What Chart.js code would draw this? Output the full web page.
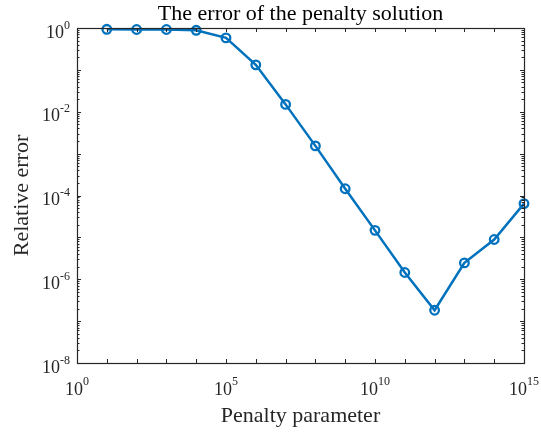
<!DOCTYPE html>
<html>
<head>
<meta charset="utf-8">
<script src="https://cdn.jsdelivr.net/npm/chart.js@4"></script>
<style>
html,body{margin:0;padding:0;background:#fff;}
#wrap{width:541px;height:432px;}
</style>
</head>
<body>
<div id="wrap"><canvas id="c" width="541" height="432"></canvas></div>
<script>
// ---- data ----
const penaltyValues = [1e1, 1e2, 1e3, 1e4, 1e5, 1e6, 1e7, 1e8, 1e9, 1e10, 1e11, 1e12, 1e13, 1e14, 1e15];
const relativeError = [0.93, 0.92, 0.92, 0.88, 0.58, 0.132, 0.015, 1.53e-3, 1.45e-4, 1.47e-5, 1.45e-6, 1.82e-7, 2.46e-6, 8.9e-6, 6.4e-5];
const xTickExponents = [0, 5, 10, 15];
const yTickExponents = [0, -2, -4, -6, -8];
const titleText = 'The error of the penalty solution';
const xLabelText = 'Penalty parameter';
const yLabelText = 'Relative error';

const FONT = '"Liberation Serif", "Times New Roman", serif';
const AXIS_COLOR = '#262626';
const LINE_COLOR = '#0072BD';

const decorPlugin = {
  id: 'decor',
  afterDraw(chart) {
    const ctx = chart.ctx;
    const a = chart.chartArea;
    const xs = chart.scales.x, ys = chart.scales.y;
    ctx.save();
    ctx.strokeStyle = AXIS_COLOR;
    ctx.lineWidth = 1.2;
    // box
    ctx.strokeRect(Math.round(a.left) + 0.5, Math.round(a.top) + 0.5, Math.round(a.right - a.left), Math.round(a.bottom - a.top));
    ctx.lineWidth = 1;
    ctx.beginPath();
    // x ticks every decade
    for (let e = 0; e <= 15; e++) {
      const px = Math.round(xs.getPixelForValue(Math.pow(10, e))) + 0.5;
      ctx.moveTo(px, a.bottom); ctx.lineTo(px, a.bottom - 4);
      ctx.moveTo(px, a.top); ctx.lineTo(px, a.top + 4);
    }
    // y ticks: major each decade, minor 2..9
    for (let e = -8; e <= 0; e++) {
      const py = Math.round(ys.getPixelForValue(Math.pow(10, e))) + 0.5;
      ctx.moveTo(a.left, py); ctx.lineTo(a.left + 4, py);
      ctx.moveTo(a.right, py); ctx.lineTo(a.right - 4, py);
      if (e < 0) {
        for (let m = 2; m <= 9; m++) {
          const pm = Math.round(ys.getPixelForValue(m * Math.pow(10, e))) + 0.5;
          ctx.moveTo(a.left, pm); ctx.lineTo(a.left + 2.5, pm);
          ctx.moveTo(a.right, pm); ctx.lineTo(a.right - 2.5, pm);
        }
      }
    }
    ctx.stroke();

    ctx.fillStyle = AXIS_COLOR;
    const baseFont = '18px ' + FONT;
    const expFont = '12px ' + FONT;
    ctx.textBaseline = 'alphabetic';
    ctx.textAlign = 'left';
    // x tick labels
    xTickExponents.forEach(e => {
      const px = xs.getPixelForValue(Math.pow(10, e));
      ctx.font = baseFont; const wb = ctx.measureText('10').width;
      ctx.font = expFont; const we = ctx.measureText(String(e)).width;
      const start = px - (wb + we) / 2;
      ctx.font = baseFont; ctx.fillText('10', start, a.bottom + 32);
      ctx.font = expFont; ctx.fillText(String(e), start + wb, a.bottom + 22);
    });
    // y tick labels
    yTickExponents.forEach(e => {
      const py = ys.getPixelForValue(Math.pow(10, e));
      ctx.font = baseFont; const wb = ctx.measureText('10').width;
      ctx.font = expFont; const we = ctx.measureText(String(e)).width;
      const right = a.left - 7;
      ctx.font = baseFont; ctx.fillText('10', right - we - wb, py + 9.5);
      ctx.font = expFont; ctx.fillText(String(e), right - we, py + 0.5);
    });
    // titles
    ctx.font = '22px ' + FONT;
    ctx.textAlign = 'center';
    const cx = (a.left + a.right) / 2;
    const cy = (a.top + a.bottom) / 2;
    ctx.fillStyle = '#000';
    ctx.fillText(titleText, cx, a.top - 8);
    ctx.fillStyle = AXIS_COLOR;
    ctx.fillText(xLabelText, cx, a.bottom + 59);
    ctx.save();
    ctx.translate(28, cy);
    ctx.rotate(-Math.PI / 2);
    ctx.fillText(yLabelText, 0, 0);
    ctx.restore();
    ctx.restore();
  }
};

new Chart(document.getElementById('c'), {
  type: 'line',
  data: {
    datasets: [{
      data: penaltyValues.map((x, i) => ({ x: x, y: relativeError[i] })),
      borderColor: LINE_COLOR,
      borderWidth: 2.5,
      pointStyle: 'circle',
      pointRadius: 4.3,
      pointBorderWidth: 2.3,
      pointBorderColor: LINE_COLOR,
      pointBackgroundColor: 'rgba(0,0,0,0)',
      tension: 0,
      clip: false
    }]
  },
  options: {
    responsive: false,
    animation: false,
    layout: { padding: { left: 77, right: 17, top: 28, bottom: 69 } },
    plugins: { legend: { display: false }, tooltip: { enabled: false }, title: { display: false } },
    scales: {
      x: { type: 'logarithmic', min: 1, max: 1e15, display: false },
      y: { type: 'logarithmic', min: 1e-8, max: 1, display: false }
    }
  },
  plugins: [decorPlugin]
});
</script>
</body>
</html>
